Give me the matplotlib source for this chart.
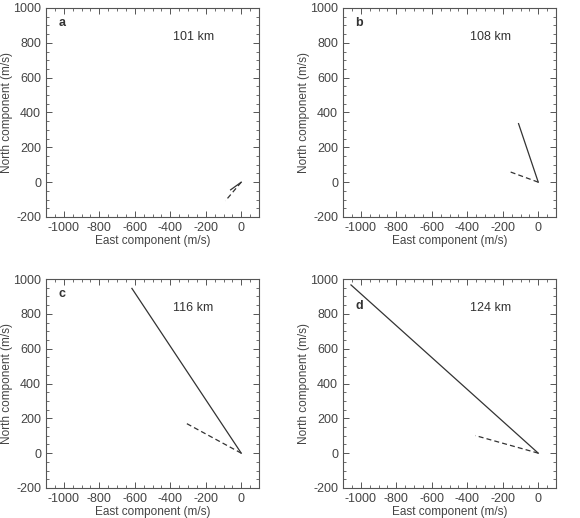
import matplotlib
matplotlib.use("Agg")
import matplotlib.pyplot as plt
from matplotlib.ticker import MultipleLocator

plt.rcParams["font.family"] = ["Liberation Sans", "DejaVu Sans"]
plt.rcParams["axes.unicode_minus"] = False  # the original uses plain hyphens

panels = ["a", "b", "c", "d"]
heights = ["101 km", "108 km", "116 km", "124 km"]
# end points of the two vectors (east, north) in m/s, both start at the origin
solid_east = [-60, -111, -616, -1055]
solid_north = [-44, 336, 946, 966]
dashed_east = [-89, -166, -322, -354]
dashed_north = [-107, 62, 178, 101]
label_north = [895, 895, 895, 825]

fig = plt.figure(figsize=(5.8, 5.18), dpi=100)
W, H = 580, 518
boxes = [(46, 8), (343, 8), (46, 279), (343, 279)]
ink = "#333333"
grey = "#555555"

for k, (px, py) in enumerate(boxes):
    ax = fig.add_axes([px / W, 1 - (py + 209) / H, 213 / W, 209 / H])
    ax.plot([0, solid_east[k]], [0, solid_north[k]], color=ink, lw=0.9)
    ax.plot([0, dashed_east[k]], [0, dashed_north[k]], color=ink, lw=0.9,
            ls=(0, (4, 2.5)))
    ax.set_xlim(-1100, 100)
    ax.set_ylim(-200, 1000)
    ax.yaxis.set_major_locator(MultipleLocator(200))
    ax.xaxis.set_minor_locator(MultipleLocator(50))
    ax.yaxis.set_minor_locator(MultipleLocator(50))
    ax.set_xticks(range(-1000, 1, 200))
    ax.tick_params(which="both", direction="in", top=True, right=True,
                   color=grey, labelsize=9, labelcolor="#444444")
    ax.tick_params(which="major", length=4, width=0.7)
    ax.tick_params(which="minor", length=2, width=0.6)
    for s in ax.spines.values():
        s.set_color(grey)
        s.set_linewidth(0.8)
    ax.set_xlabel("East component (m/s)", fontsize=8.5, color="#444444",
                  labelpad=1)
    ax.set_ylabel("North component (m/s)", fontsize=8.5, color="#444444",
                  labelpad=0)
    ax.text(-1030, label_north[k], panels[k], fontsize=9, fontweight="bold",
            color="#333333")
    ax.text(-270, 835, heights[k], fontsize=9, color="#333333",
            ha="center", va="center")

fig.savefig("out.png", dpi=100)
